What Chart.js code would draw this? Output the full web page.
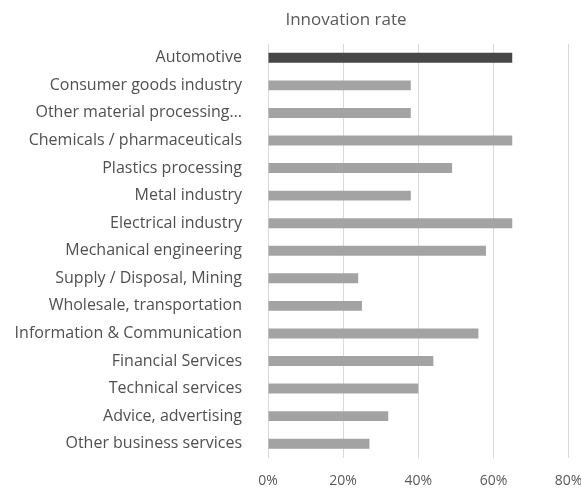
<!DOCTYPE html>
<html>
<head>
<meta charset="utf-8">
<script src="https://cdn.jsdelivr.net/npm/chart.js@4.4.1/dist/chart.umd.min.js"></script>
<style>
  html, body { margin: 0; padding: 0; background: #fff; overflow: hidden; }
  #wrap { width: 598px; height: 489px; }
</style>
</head>
<body>
<div id="wrap"><canvas id="c" width="598" height="489"></canvas></div>
<script>
// Sectors and their share of innovating companies
const sectors = [
  "Automotive",
  "Consumer goods industry",
  "Other material processing…",
  "Chemicals / pharmaceuticals",
  "Plastics processing",
  "Metal industry",
  "Electrical industry",
  "Mechanical engineering",
  "Supply / Disposal, Mining",
  "Wholesale, transportation",
  "Information & Communication",
  "Financial Services",
  "Technical services",
  "Advice, advertising",
  "Other business services"
];
const innovationRate = [0.65, 0.38, 0.38, 0.65, 0.49, 0.38, 0.65, 0.58, 0.24, 0.25, 0.56, 0.44, 0.40, 0.32, 0.27];
const axisTicks = [0, 0.2, 0.4, 0.6, 0.8];
const highlighted = "Automotive";
const chartTitle = "Innovation rate";

const barColors = sectors.map(s => s === highlighted ? "#464646" : "#a3a3a3");

// Title drawn slightly left of the canvas centre, above the plot
const titlePlugin = {
  id: "offsetTitle",
  afterDraw(chart) {
    const ctx = chart.ctx;
    ctx.save();
    ctx.font = "17px 'Open Sans'";
    ctx.fillStyle = "#595959";
    ctx.textAlign = "center";
    ctx.textBaseline = "middle";
    ctx.fillText(chartTitle, 346, 20);
    ctx.restore();
  }
};

new Chart(document.getElementById("c"), {
  type: "bar",
  data: {
    labels: sectors,
    datasets: [{
      data: innovationRate,
      backgroundColor: barColors,
      borderWidth: 0,
      categoryPercentage: 1,
      barPercentage: 0.36
    }]
  },
  plugins: [titlePlugin],
  options: {
    indexAxis: "y",
    responsive: false,
    animation: false,
    layout: { padding: { left: 0, right: 4, top: 44, bottom: 0 } },
    plugins: {
      legend: { display: false },
      tooltip: { enabled: false },
      title: { display: false }
    },
    scales: {
      x: {
        min: 0,
        max: 0.8,
        afterBuildTicks: axis => { axis.ticks = axisTicks.map(v => ({ value: v })); },
        afterFit: axis => { axis.height = 31.5; },
        grid: { color: "#d9d9d9", lineWidth: 1, drawTicks: false },
        border: { display: false },
        ticks: {
          color: "#595959",
          font: { family: "Open Sans", size: 14 },
          padding: 15.6,
          maxRotation: 0,
          callback: v => Math.round(v * 100) + "%"
        }
      },
      y: {
        grid: { display: false },
        border: { display: false },
        afterFit: axis => { axis.width = 268; },
        ticks: {
          color: "#505050",
          font: { family: "Open Sans", size: 16 },
          padding: 18,
          autoSkip: false
        }
      }
    }
  }
});
</script>
</body>
</html>
